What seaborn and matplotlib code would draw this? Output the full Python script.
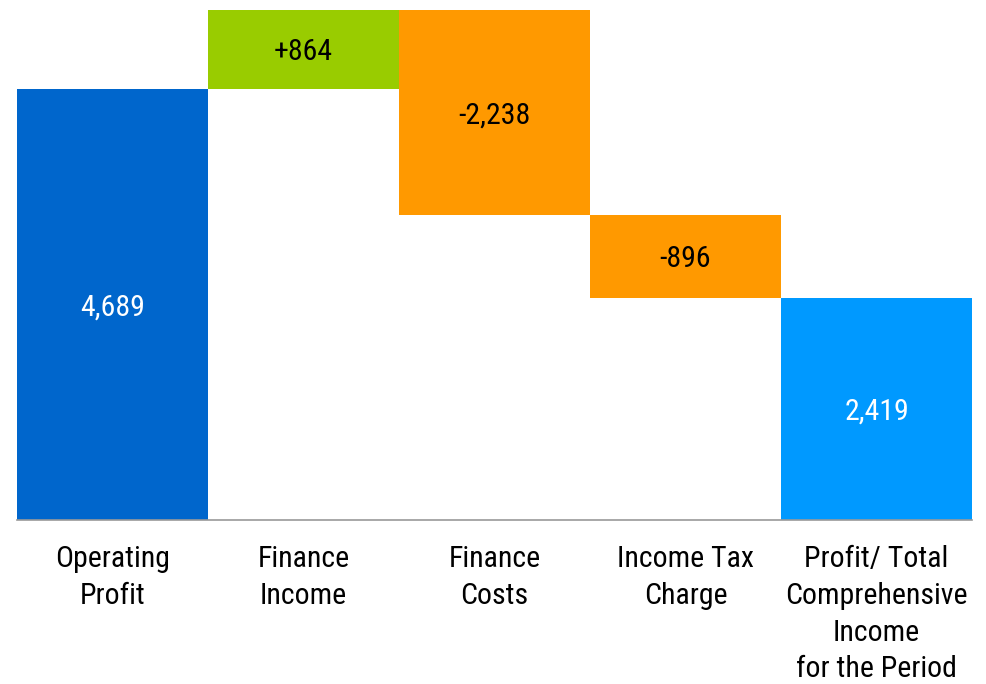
import matplotlib
matplotlib.use("Agg")
import matplotlib.pyplot as plt
import seaborn as sns
import numpy as np
import pandas as pd

categories = ["Operating\nProfit", "Finance\nIncome", "Finance\nCosts",
              "Income Tax\nCharge", "Profit/ Total\nComprehensive\nIncome\nfor the Period"]
changes = [4689, 864, -2238, -896, 2419]
value_labels = ["4,689", "+864", "-2,238", "-896", "2,419"]
is_total = [True, False, False, False, True]
colors = ["#0066CC", "#99CC00", "#FF9900", "#FF9900", "#0099FF"]
label_colors = ["white", "black", "black", "black", "white"]

# compute waterfall bottoms/heights
bottoms, heights = [], []
running = 0
for c, t in zip(changes, is_total):
    if t:
        bottoms.append(0)
        heights.append(c)
        running = c
    else:
        if c >= 0:
            bottoms.append(running)
            heights.append(c)
        else:
            bottoms.append(running + c)
            heights.append(-c)
        running += c

df = pd.DataFrame({"cat": categories, "height": heights, "bottom": bottoms})

sns.set_style("white")
fam = ["Roboto Condensed", "Archivo Narrow", "Liberation Sans", "DejaVu Sans"]
plt.rcParams["font.family"] = fam

W, H = 986, 684
fig = plt.figure(figsize=(W / 100, H / 100), dpi=100)
ax = fig.add_axes([17 / W, (H - 520) / H, (972 - 17) / W, (520 - 9.5) / H])

sns.barplot(data=df, x="cat", y="height", bottom=df["bottom"].to_numpy(),
            width=1.0, ax=ax, linewidth=0, saturation=1, color=colors[0])
for patch, col in zip(ax.patches, colors):
    patch.set_facecolor(col)

ax.set_xlim(-0.5, len(categories) - 0.5)
ax.set_ylim(0, max(b + h for b, h in zip(bottoms, heights)))

for i, (b, h) in enumerate(zip(bottoms, heights)):
    ax.annotate(value_labels[i], (i, b + h / 2), xytext=(0, -2.2),
                textcoords="offset points", ha="center", va="center",
                fontsize=21.5, color=label_colors[i], family=fam)

for s in ["top", "right", "left"]:
    ax.spines[s].set_visible(False)
ax.spines["bottom"].set_color("#999999")
ax.spines["bottom"].set_linewidth(1.2)
ax.set_yticks([])
ax.set_xlabel("")
ax.set_ylabel("")

ax.set_xticks(range(len(categories)))
ax.set_xticklabels(categories, fontsize=21.5, family=fam, color="black",
                   linespacing=1.4)
ax.tick_params(axis="x", which="major", length=0, pad=18)
ax.set_xticks(np.arange(-0.5, len(categories)), minor=True)
ax.tick_params(axis="x", which="minor", length=6, width=1.2, color="#999999")

fig.savefig("out.png", dpi=100)
